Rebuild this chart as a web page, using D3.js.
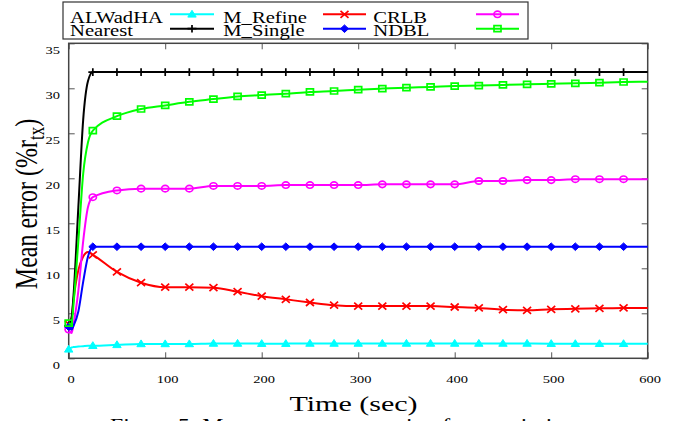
<!DOCTYPE html>
<html>
<head>
<meta charset="utf-8">
<script src="https://cdn.jsdelivr.net/npm/d3@7"></script>
<style>
  body { margin: 0; background: #fff; }
  text { font-family: "Liberation Serif", "Times New Roman", serif; fill: #000; }
</style>
</head>
<body>
<div id="chart-area"></div>
<script>
// ----------------- Data -----------------
const times = [0, 3, 5, 10, 15, 20, 25, 50, 75, 100, 125, 150, 175, 200, 225, 250, 275, 300,
  325, 350, 375, 400, 425, 450, 475, 500, 525, 550, 575, 600];

const alwadha = [1.0, 1.2, 1.25, 1.3, 1.35, 1.4, 1.4, 1.5, 1.6, 1.6, 1.6, 1.65, 1.65, 1.63, 1.63, 1.65,
  1.65, 1.65, 1.65, 1.65, 1.65, 1.65, 1.65, 1.65, 1.65, 1.63, 1.62, 1.62, 1.62, 1.62];
const mRefine = [3.8, 4.5, 6.5, 9.8, 11.3, 11.8, 11.5, 9.6, 8.4, 7.9, 7.9, 7.85, 7.4, 6.9, 6.55, 6.2,
  5.9, 5.8, 5.8, 5.8, 5.8, 5.7, 5.6, 5.4, 5.33, 5.44, 5.5, 5.55, 5.6, 5.6];
const crlb = [3.2, 2.8, 3.8, 7.5, 13, 16.8, 17.9, 18.65, 18.85, 18.85, 18.85, 19.15, 19.15, 19.15, 19.25,
  19.25, 19.25, 19.25, 19.33, 19.33, 19.33, 19.33, 19.7, 19.7, 19.8, 19.8, 19.9, 19.9, 19.9, 19.9];
const nearest = [3.6, 4.5, 7, 16.8, 26.5, 30.8, 31.8, 31.8, 31.8, 31.8, 31.8, 31.8, 31.8, 31.8, 31.8,
  31.8, 31.8, 31.8, 31.8, 31.8, 31.8, 31.8, 31.8, 31.8, 31.8, 31.8, 31.8, 31.8, 31.8, 31.8];
const mSingle = [3.5, 3.2, 3.6, 5.2, 8.5, 11.3, 12.4, 12.4, 12.4, 12.4, 12.4, 12.4, 12.4, 12.4, 12.4,
  12.4, 12.4, 12.4, 12.4, 12.4, 12.4, 12.4, 12.4, 12.4, 12.4, 12.4, 12.4, 12.4, 12.4, 12.4];
const ndbl = [3.9, 3.8, 6, 13, 20.5, 24, 25.3, 26.9, 27.7, 28.1, 28.5, 28.8, 29.1, 29.25, 29.4, 29.6,
  29.7, 29.85, 29.97, 30.07, 30.15, 30.25, 30.3, 30.37, 30.44, 30.5, 30.55, 30.63, 30.7, 30.73];

const xTicks = [0, 100, 200, 300, 400, 500, 600];
const yTicks = [0, 5, 10, 15, 20, 25, 30, 35];

const series = [
  { name: "ALWadHA", color: "#00ffff", marker: "triangle", values: alwadha },
  { name: "M_Refine", color: "#ff0000", marker: "x", values: mRefine },
  { name: "CRLB", color: "#ff00ff", marker: "circle", values: crlb },
  { name: "Nearest", color: "#000000", marker: "plus", values: nearest },
  { name: "M_Single", color: "#0000ff", marker: "diamond", values: mSingle },
  { name: "NDBL", color: "#00ff00", marker: "square", values: ndbl }
];

// ----------------- Setup -----------------
const W = 691, H = 421;
const svg = d3.select("#chart-area").append("svg")
  .attr("width", W).attr("height", H);

const x = d3.scaleLinear().domain([0, 600]).range([68.7, 647.7]);
const y = d3.scaleLinear().domain([0, 35]).range([358.3, 43.3]);

// the source figure is stretched horizontally, so text is too
const stretch = (sx, tx, ty, rot) =>
  `translate(${tx},${ty}) scale(${sx},1)` + (rot ? ` rotate(${rot})` : "");

function markerPath(type) {
  switch (type) {
    case "triangle": return "M0,-4L4.2,2.8L-4.2,2.8Z";
    case "x": return "M-4,-3.5L4,3.5M-4,3.5L4,-3.5";
    case "circle": return "M3.6,0A3.6,3.2 0 1,1 -3.6,0A3.6,3.2 0 1,1 3.6,0";
    case "plus": return "M-4.5,0H4.5M0,-3.8V3.8";
    case "diamond": return "M0,-3.8L4,0L0,3.8L-4,0Z";
    case "square": return "M-3.5,-3H3.5V3H-3.5Z";
  }
}
const filled = t => t === "triangle" || t === "diamond";

function drawMarker(sel, s) {
  sel.append("path")
    .attr("d", markerPath(s.marker))
    .attr("fill", filled(s.marker) ? s.color : "none")
    .attr("stroke", s.color)
    .attr("stroke-width", filled(s.marker) ? 1 : 1.7);
}

// ----------------- Axes -----------------
const xAxisG = svg.append("g")
  .attr("transform", `translate(0,${y(0)})`)
  .attr("font-size", 14)
  .call(d3.axisBottom(x).tickValues(xTicks).tickSize(-6).tickPadding(0));
xAxisG.select(".domain").remove();
xAxisG.selectAll("line").attr("stroke", "#555");
xAxisG.selectAll("text")
  .attr("y", 0).attr("dy", null)
  .attr("transform", stretch(1.45, 2, 24.5));

svg.append("g")
  .attr("transform", `translate(0,${y(35)})`)
  .call(d3.axisTop(x).tickValues(xTicks).tickSize(-6).tickFormat(""))
  .call(g => g.select(".domain").remove())
  .selectAll("line").attr("stroke", "#555");

const yAxisG = svg.append("g")
  .attr("transform", `translate(${x(0)},0)`)
  .attr("font-size", 14)
  .call(d3.axisLeft(y).tickValues(yTicks).tickSize(-6).tickPadding(0));
yAxisG.select(".domain").remove();
yAxisG.selectAll("line").attr("stroke", "#555");
yAxisG.selectAll("text")
  .attr("x", 0).attr("dy", null)
  .attr("transform", stretch(1.45, -8.7, 10));

svg.append("g")
  .attr("transform", `translate(${x(600)},0)`)
  .call(d3.axisRight(y).tickValues(yTicks).tickSize(-6).tickFormat(""))
  .call(g => g.select(".domain").remove())
  .selectAll("line").attr("stroke", "#555");

// frame
svg.append("rect")
  .attr("x", x(0)).attr("y", y(35))
  .attr("width", x(600) - x(0)).attr("height", y(0) - y(35))
  .attr("fill", "none").attr("stroke", "#444").attr("stroke-width", 1.5);

// ----------------- Lines -----------------
const line = d3.line()
  .x((d, i) => x(times[i]))
  .y(d => y(d))
  .curve(d3.curveMonotoneX);

const plot = svg.append("g");
for (let s of series) {
  plot.append("path")
    .attr("d", line(s.values))
    .attr("fill", "none")
    .attr("stroke", s.color)
    .attr("stroke-width", 2);

  times.forEach((t, i) => {
    if (t % 25 !== 0 || t >= 600) return;
    plot.append("g")
      .attr("transform", `translate(${x(t)},${y(s.values[i])})`)
      .call(drawMarker, s);
  });
}

// ----------------- Labels -----------------
const yLabel = svg.append("text")
  .attr("font-size", 24)
  .attr("text-anchor", "middle")
  .attr("transform", stretch(1.35, 37, 204, -90));
yLabel.append("tspan").text("Mean error (%r");
yLabel.append("tspan").attr("font-size", 17).attr("dy", 5).text("tx");
yLabel.append("tspan").attr("dy", -5).text(")");

svg.append("text")
  .attr("font-size", 21)
  .attr("text-anchor", "middle")
  .attr("transform", stretch(1.43, 353.5, 411))
  .text("Time (sec)");

svg.append("text")
  .attr("font-size", 19)
  .attr("transform", stretch(1.25, 110, 432))
  .text("Figure 5: Mean error versus ratio of transmission ranges");

// ----------------- Legend -----------------
svg.append("rect")
  .attr("x", 63).attr("y", 2).attr("width", 465).attr("height", 37)
  .attr("fill", "#fff").attr("stroke", "#333").attr("stroke-width", 1.2);

const colText = [70, 223.3, 373.3];
const colLine = [[170, 214], [323, 366], [476, 519]];
const rowBase = [22.7, 36];
const rowLine = [14.3, 28.7];

series.forEach((s, i) => {
  const col = i % 3, row = Math.floor(i / 3);
  svg.append("text")
    .attr("font-size", 16.5)
    .attr("transform", stretch(1.25, colText[col], rowBase[row]))
    .text(s.name);
  svg.append("line")
    .attr("x1", colLine[col][0]).attr("x2", colLine[col][1])
    .attr("y1", rowLine[row]).attr("y2", rowLine[row])
    .attr("stroke", s.color).attr("stroke-width", 2);
  svg.append("g")
    .attr("transform", `translate(${(colLine[col][0] + colLine[col][1]) / 2},${rowLine[row]})`)
    .call(drawMarker, s);
});
</script>
</body>
</html>
